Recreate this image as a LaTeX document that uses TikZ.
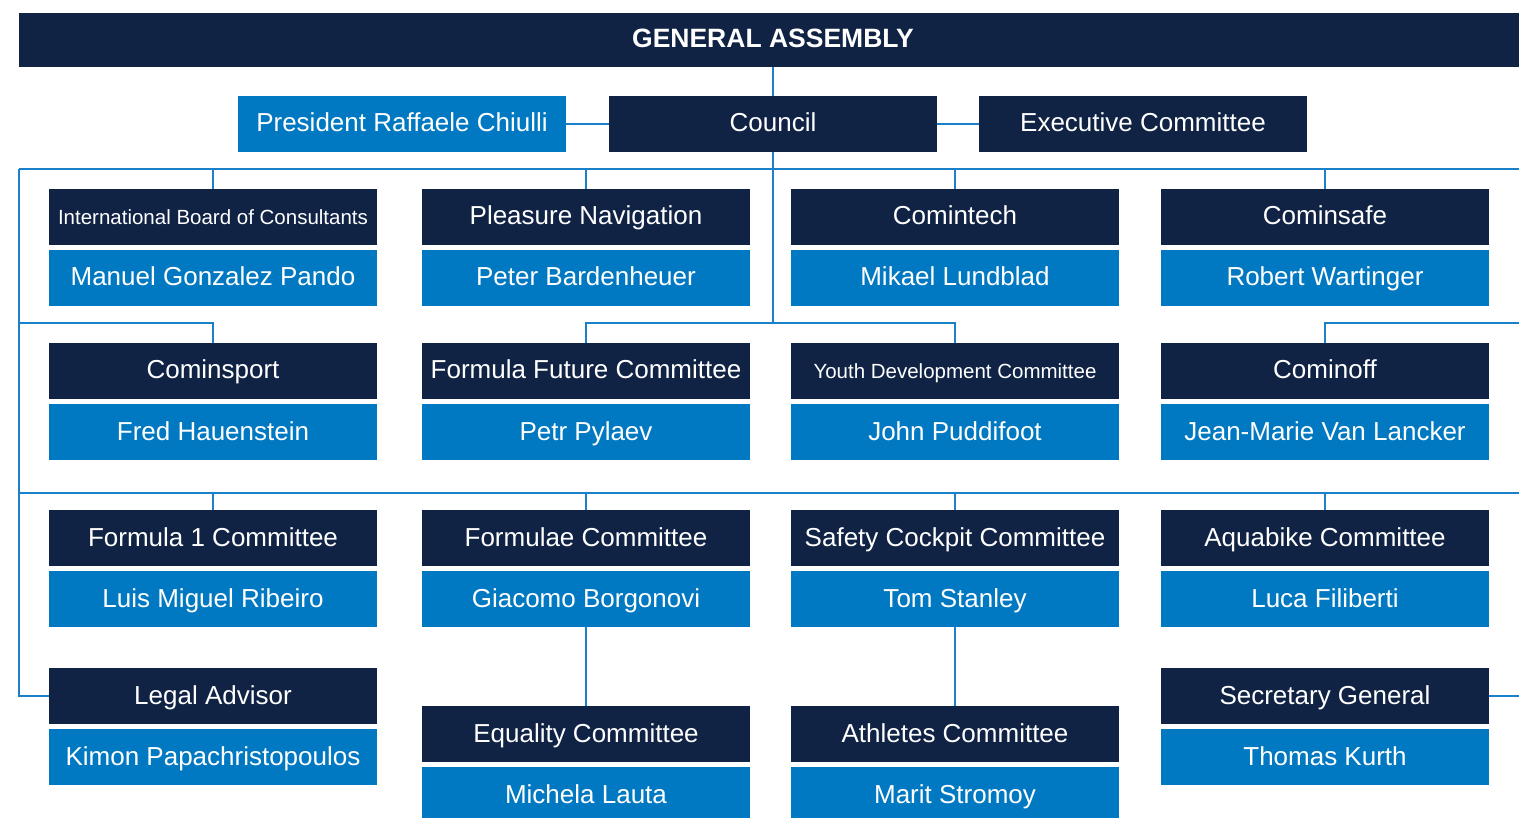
\documentclass[tikz,border=0pt]{standalone}
\usepackage{fontspec}
\setmainfont{Liberation Sans}
\definecolor{navy}{HTML}{102345}
\definecolor{fiblue}{HTML}{0079C2}
\definecolor{linkblue}{HTML}{1A80C9}

\begin{document}
\begin{tikzpicture}[x=1pt,y=-1pt,head/.style={fill=navy, text=white, minimum width=328pt, minimum height=56pt, inner sep=0pt, text height=20pt, text depth=4pt, font=\fontsize{26}{30}\selectfont},person/.style={fill=fiblue, text=white, minimum width=328pt, minimum height=56pt, inner sep=0pt, text height=20pt, text depth=4pt, font=\fontsize{26}{30}\selectfont},link/.style={draw=linkblue, line width=2.5pt}]
\useasboundingbox (0,0) rectangle (1519,818);
\node[head, minimum width=1508pt, minimum height=54pt, font=\bfseries\fontsize{26.5}{30}\selectfont] (ga) at (773,40) {GENERAL ASSEMBLY};
\node[person] (president) at (402,124) {President Raffaele Chiulli};
\node[head] (council) at (773,124) {Council};
\node[head] (exec) at (1143,124) {Executive Committee};
\foreach \n/\x/\y/\s/\t/\p in {ibc/213/217/20.5/International Board of Consultants/Manuel Gonzalez Pando, pleasure/586/217/26/Pleasure Navigation/Peter Bardenheuer, comintech/955/217/26/Comintech/Mikael Lundblad, cominsafe/1325/217/26/Cominsafe/Robert Wartinger, cominsport/213/371/26/Cominsport/Fred Hauenstein, future/586/371/26/Formula Future Committee/Petr Pylaev, youth/955/371/20.5/Youth Development Committee/John Puddifoot, cominoff/1325/371/26/Cominoff/Jean-Marie Van Lancker, formulaone/213/538/26/Formula 1 Committee/Luis Miguel Ribeiro, formulae/586/538/26/Formulae Committee/Giacomo Borgonovi, safety/955/538/26/Safety Cockpit Committee/Tom Stanley, aquabike/1325/538/26/Aquabike Committee/Luca Filiberti, legal/213/696/26/Legal Advisor/Kimon Papachristopoulos, equality/586/734/26/Equality Committee/Michela Lauta, athletes/955/734/26/Athletes Committee/Marit Stromoy, secgen/1325/696/26/Secretary General/Thomas Kurth} {\node[head, font=\fontsize{\s}{30}\selectfont] (\n) at (\x,\y) {\t};\node[person] (\n-p) at (\x,\y+61) {\p};}
\coordinate (busa-l) at (19,169);
\coordinate (busa-r) at (1530,169);
\coordinate (busb) at (773,323);
\coordinate (busb-l) at (19,323);
\coordinate (busb-r) at (1530,323);
\coordinate (busc-l) at (19,493);
\coordinate (busc-r) at (1530,493);
\draw[link] (ga.south) -- (council.north);
\draw[link] (president) -- (council);
\draw[link] (council) -- (exec);
\draw[link] (busa-l) -- (busa-r);
\foreach \n in {ibc,pleasure,comintech,cominsafe} {\draw[link] (\n.north) -- (\n.north |- busa-l);}
\draw[link] (busa-l) |- (legal.west);
\draw[link] (council.south) -- (busb);
\draw[link] (future.north) |- (busb) -| (youth.north);
\draw[link] (busb-l) -| (cominsport.north);
\draw[link] (busb-r) -| (cominoff.north);
\draw[link] (busc-l) -- (busc-r);
\foreach \n in {formulaone,formulae,safety,aquabike} {\draw[link] (\n.north) -- (\n.north |- busc-l);}
\draw[link] (formulae-p) -- (equality);
\draw[link] (safety-p) -- (athletes);
\draw[link] (secgen.east) -- (secgen.east -| busc-r);
\end{tikzpicture}
\end{document}
